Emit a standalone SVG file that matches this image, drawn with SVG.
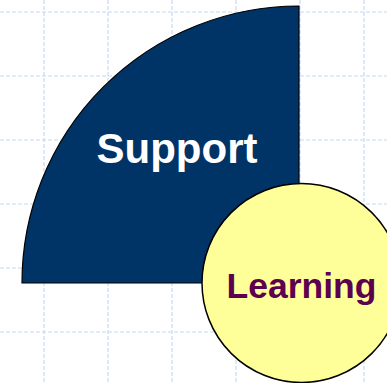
<svg xmlns="http://www.w3.org/2000/svg" width="387" height="383" viewBox="0 0 387 383">
<style>
.grid{stroke:#C8D8F8;stroke-width:1.2;stroke-dasharray:4 2;fill:none}
.lbl{font-family:"Liberation Sans",Arial,sans-serif;font-weight:bold;text-anchor:middle}
</style>
<rect width="387" height="383" fill="#FFFFFF"/>
<g id="grid">
<path class="grid" d="M44 0V383M108 0V383M172 0V383M236 0V383M300 0V383M364 0V383M0 12H387M0 76H387M0 140H387M0 204H387M0 268H387M0 332H387"/>
</g>
<g id="support">
<path d="M299 283H22A277 277 0 0 1 299 6Z" fill="#003366" stroke="#000000" stroke-width="1.2"/>
<text class="lbl" x="177" y="163" font-size="42" fill="#FFFFFF">Support</text>
</g>
<g id="learning">
<circle cx="301.5" cy="283" r="99.5" fill="#FFFF99" stroke="#000000" stroke-width="1.5"/>
<text class="lbl" x="301.5" y="297.5" font-size="35.5" fill="#5C0050">Learning</text>
</g>
<g id="connectors"/>
</svg>
